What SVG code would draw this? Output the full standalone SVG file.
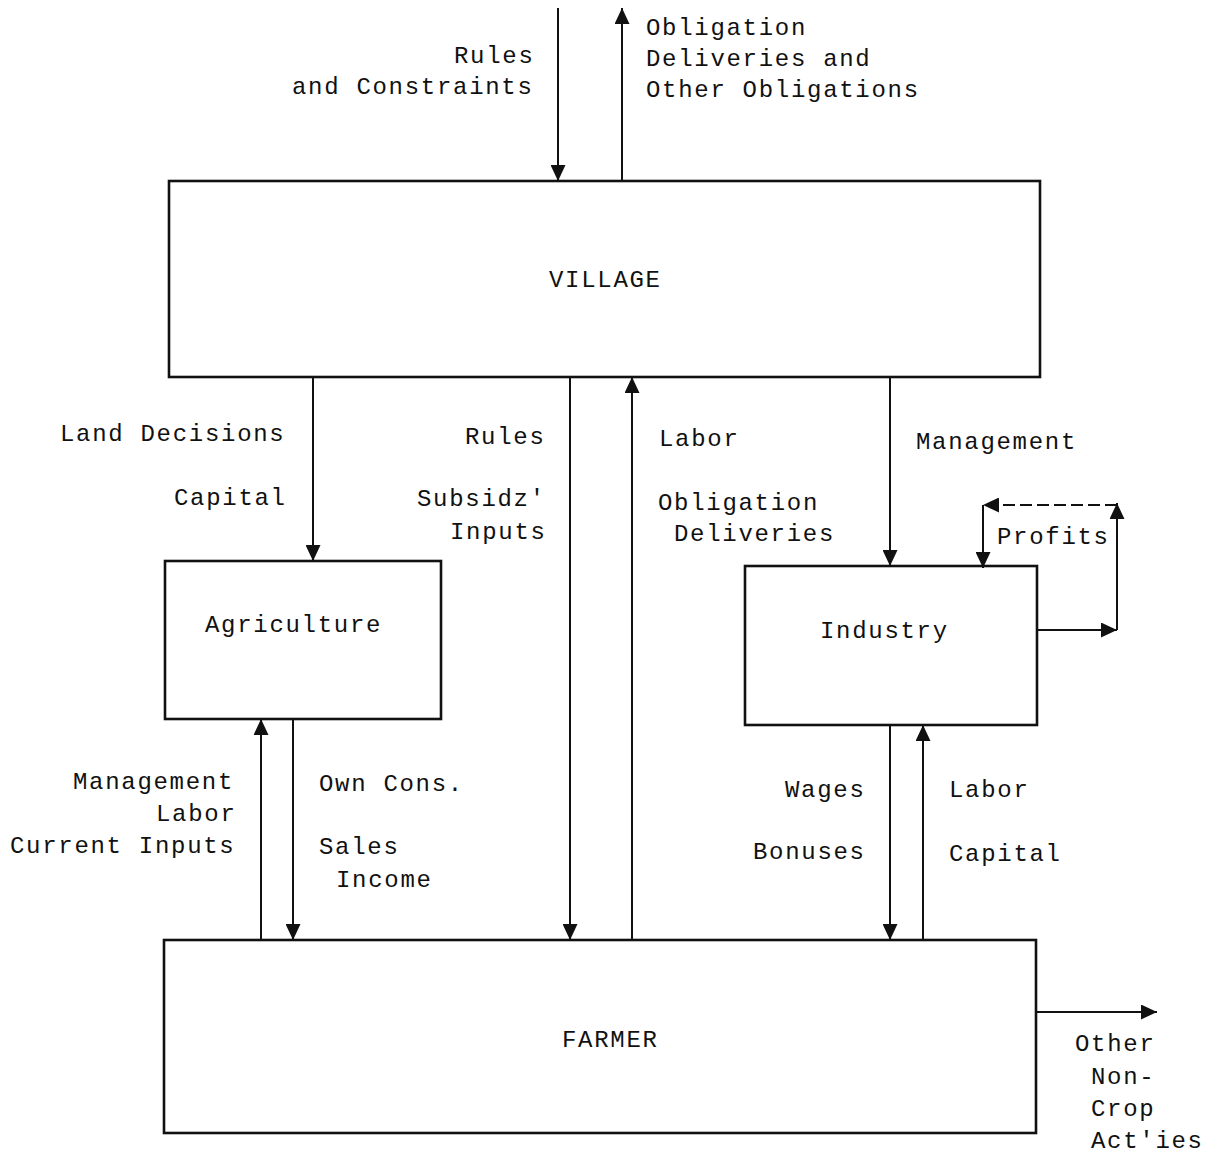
<svg xmlns="http://www.w3.org/2000/svg" width="1212" height="1153" viewBox="0 0 1212 1153">
<style>
text{font-family:"Liberation Mono","Courier New",monospace;font-size:24px;letter-spacing:1.7px;fill:#111}
.box{fill:#fff;stroke:#111;stroke-width:2.6}
.c{fill:none;stroke:#111;stroke-width:2}
.d{stroke-dasharray:12 5}
</style>
<defs>
<marker id="ah" markerUnits="userSpaceOnUse" markerWidth="17" markerHeight="15" refX="16" refY="7.5" orient="auto">
<path d="M0,0 L16,7.5 L0,15 z" fill="#111"/>
</marker>
</defs>
<rect width="1212" height="1153" fill="#fff"/>
<g id="village"><rect class="box" x="169" y="181" width="871" height="196"/><text x="549" y="287">VILLAGE</text></g>
<g id="agriculture"><rect class="box" x="165" y="561" width="276" height="158"/><text x="205" y="632">Agriculture</text></g>
<g id="industry"><rect class="box" x="745" y="566" width="292" height="159"/><text x="820" y="638">Industry</text></g>
<g id="farmer"><rect class="box" x="164" y="940" width="872" height="193"/><text x="562" y="1047">FARMER</text></g>
<g id="connectors">
<line class="c" x1="558" y1="8" x2="558" y2="181" marker-end="url(#ah)"/>
<line class="c" x1="622" y1="181" x2="622" y2="8" marker-end="url(#ah)"/>
<line class="c" x1="313" y1="377" x2="313" y2="561" marker-end="url(#ah)"/>
<line class="c" x1="570" y1="377" x2="570" y2="940" marker-end="url(#ah)"/>
<line class="c" x1="632" y1="940" x2="632" y2="377" marker-end="url(#ah)"/>
<line class="c" x1="890" y1="377" x2="890" y2="566" marker-end="url(#ah)"/>
<line class="c" x1="1037" y1="630" x2="1117" y2="630" marker-end="url(#ah)" stroke-width="2.6"/>
<line class="c" x1="1117" y1="630" x2="1117" y2="503" marker-end="url(#ah)"/>
<line class="c d" x1="1117" y1="505" x2="983" y2="505" marker-end="url(#ah)"/>
<line class="c" x1="983" y1="505" x2="983" y2="568" marker-end="url(#ah)"/>
<line class="c" x1="261" y1="940" x2="261" y2="719" marker-end="url(#ah)" stroke-width="2.6"/>
<line class="c" x1="293" y1="719" x2="293" y2="940" marker-end="url(#ah)"/>
<line class="c" x1="890" y1="725" x2="890" y2="940" marker-end="url(#ah)"/>
<line class="c" x1="923" y1="940" x2="923" y2="725" marker-end="url(#ah)"/>
<line class="c" x1="1036" y1="1012" x2="1157" y2="1012" marker-end="url(#ah)" stroke-width="2.6"/>
</g>
<g id="labels">
<text x="454" y="63">Rules</text>
<text x="292" y="94">and Constraints</text>
<text x="646" y="35">Obligation</text>
<text x="646" y="66">Deliveries and</text>
<text x="646" y="97">Other Obligations</text>
<text x="60" y="441">Land Decisions</text>
<text x="174" y="505">Capital</text>
<text x="465" y="444">Rules</text>
<text x="417" y="506">Subsidz'</text>
<text x="450" y="539">Inputs</text>
<text x="659" y="446">Labor</text>
<text x="658" y="510">Obligation</text>
<text x="674" y="541">Deliveries</text>
<text x="916" y="449">Management</text>
<text x="997" y="544">Profits</text>
<text x="73" y="789">Management</text>
<text x="156" y="821">Labor</text>
<text x="10" y="853">Current Inputs</text>
<text x="319" y="791">Own Cons.</text>
<text x="319" y="854">Sales</text>
<text x="336" y="887">Income</text>
<text x="785" y="797">Wages</text>
<text x="753" y="859">Bonuses</text>
<text x="949" y="797">Labor</text>
<text x="949" y="861">Capital</text>
<text x="1075" y="1051">Other</text>
<text x="1091" y="1084">Non-</text>
<text x="1091" y="1116">Crop</text>
<text x="1091" y="1148">Act'ies</text>
</g>
</svg>
